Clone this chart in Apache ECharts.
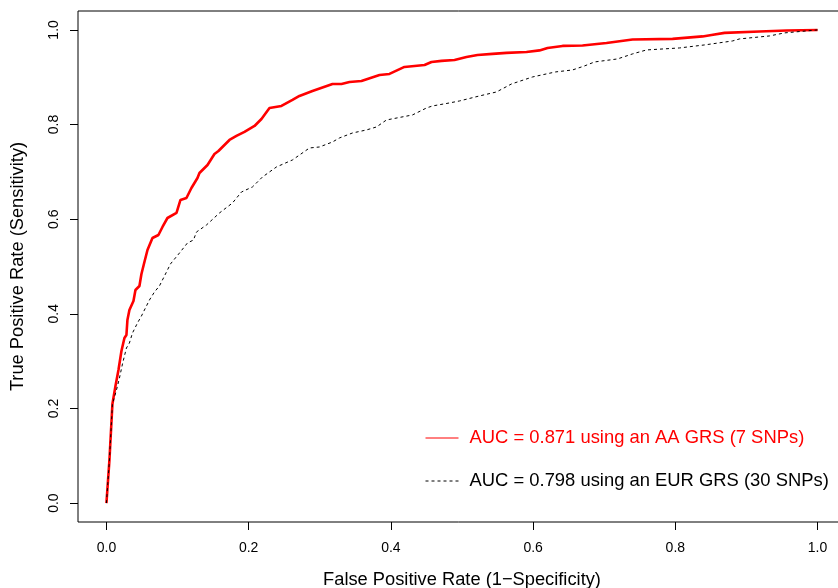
<!DOCTYPE html>
<html>
<head>
<meta charset="utf-8">
<script src="https://cdn.jsdelivr.net/npm/echarts@6/dist/echarts.min.js"></script>
<style>
html,body{margin:0;padding:0;background:#fff;}
#chart{width:838px;height:588px;}
</style>
</head>
<body>
<div id="chart"></div>
<script>
// ROC curve for AA GRS (7 SNPs): false positive rate / true positive rate
const aaFpr = [0,0.0042,0.0084,0.0127,0.0169,0.0211,0.0253,0.0281,0.0295,0.0323,0.0380,0.0394,0.0408,0.0464,0.0492,0.0534,0.0577,0.0647,0.0731,0.0788,0.0858,0.0985,0.1041,0.1125,0.1195,0.1280,0.1308,0.1421,0.1519,0.1575,0.1730,0.1828,0.1941,0.2082,0.2180,0.2293,0.2461,0.2616,0.2714,0.2897,0.3179,0.3305,0.3418,0.3586,0.3840,0.3980,0.4191,0.4473,0.4571,0.4712,0.4895,0.5063,0.5218,0.5429,0.5626,0.5907,0.6090,0.6203,0.6414,0.6695,0.7032,0.7398,0.7961,0.8383,0.8509,0.8692,0.9184,0.9564,1.0];
const aaTpr = [0,0.0909,0.2093,0.2474,0.2812,0.3214,0.3488,0.3552,0.3869,0.4080,0.4271,0.4292,0.4503,0.4588,0.4841,0.5095,0.5349,0.5603,0.5666,0.5835,0.6025,0.6131,0.6406,0.6448,0.6660,0.6871,0.6977,0.7146,0.7378,0.7442,0.7674,0.7759,0.7844,0.7970,0.8118,0.8351,0.8393,0.8520,0.8605,0.8710,0.8858,0.8858,0.8901,0.8922,0.9049,0.9070,0.9218,0.9260,0.9323,0.9345,0.9366,0.9429,0.9471,0.9493,0.9514,0.9535,0.9567,0.9619,0.9662,0.9672,0.9725,0.9799,0.9810,0.9863,0.9894,0.9937,0.9968,0.9989,1.0];
// ROC curve for EUR GRS (30 SNPs)
const eurFpr = [0,0.0042,0.0084,0.0141,0.0183,0.0225,0.0281,0.0323,0.0366,0.0436,0.0492,0.0534,0.0605,0.0675,0.0745,0.0830,0.0900,0.1027,0.1139,0.1224,0.1266,0.1406,0.1589,0.1772,0.1899,0.2053,0.2194,0.2391,0.2616,0.2855,0.2996,0.3179,0.3277,0.3460,0.3657,0.3797,0.3938,0.4304,0.4501,0.4585,0.4824,0.4965,0.5246,0.5485,0.5696,0.5992,0.6315,0.6554,0.6723,0.6864,0.7187,0.7398,0.7595,0.8059,0.8411,0.8805,0.8903,0.9325,0.9536,1.0];
const eurTpr = [0,0.0909,0.2093,0.2389,0.2643,0.2939,0.3277,0.3383,0.3594,0.3805,0.3953,0.4080,0.4292,0.4461,0.4588,0.4841,0.5053,0.5285,0.5497,0.5560,0.5729,0.5877,0.6131,0.6342,0.6575,0.6681,0.6892,0.7104,0.7252,0.7505,0.7526,0.7632,0.7717,0.7822,0.7886,0.7949,0.8097,0.8203,0.8351,0.8393,0.8457,0.8499,0.8605,0.8689,0.8858,0.9006,0.9112,0.9154,0.9239,0.9323,0.9387,0.9493,0.9577,0.9619,0.9683,0.9767,0.9810,0.9873,0.9937,1.0];
const tickValues = [0, 0.2, 0.4, 0.6, 0.8, 1.0];
const seriesNames = ['AUC = 0.871 using an AA GRS (7 SNPs)', 'AUC = 0.798 using an EUR GRS (30 SNPs)'];
const xTitle = 'False Positive Rate (1\u2212Specificity)';
const yTitle = 'True Positive Rate (Sensitivity)';

const font = "'Liberation Sans', Arial, Helvetica, sans-serif";
const zip = (a, b) => a.map((v, i) => [v, b[i]]);

const chart = echarts.init(document.getElementById('chart'), null, {renderer: 'canvas'});
chart.setOption({
  animation: false,
  backgroundColor: '#fff',
  textStyle: {fontFamily: font},
  grid: {left: 78, top: 11, height: 511, width: 768, outerBoundsMode: 'none', containLabel: false,
         show: true, borderColor: '#000', borderWidth: 1, backgroundColor: 'transparent'},
  legend: {
    orient: 'vertical', left: 420, top: 424,
    itemWidth: 33, itemHeight: 14, itemGap: 25,
    textStyle: {fontSize: 18.4, fontFamily: font, padding: [0, 0, 0, 6]},
    lineStyle: {width: 1},
    itemStyle: {opacity: 0},
    data: [
      {name: seriesNames[0], textStyle: {color: '#ff0000'}},
      {name: seriesNames[1], textStyle: {color: '#000'}}
    ]
  },
  xAxis: {
    type: 'value', min: -0.04, max: 1.04,
    name: xTitle, nameLocation: 'middle', nameGap: 49, nameMoveOverlap: false,
    nameTextStyle: {fontSize: 18.3, color: '#000', fontFamily: font},
    axisLine: {show: false, onZero: false},
    splitLine: {show: false},
    axisTick: {show: true, customValues: tickValues, length: 8, lineStyle: {color: '#000'}},
    axisLabel: {customValues: tickValues, margin: 19, fontSize: 14, color: '#000', formatter: v => v.toFixed(1)}
  },
  yAxis: {
    type: 'value', min: -0.04, max: 1.04,
    name: yTitle, nameLocation: 'middle', nameGap: 51, nameMoveOverlap: false,
    nameTextStyle: {fontSize: 18.3, color: '#000', fontFamily: font},
    axisLine: {show: false, onZero: false},
    splitLine: {show: false},
    axisTick: {show: true, customValues: tickValues, length: 8, lineStyle: {color: '#000'}},
    axisLabel: {customValues: tickValues, margin: 17, rotate: 90, fontSize: 14, color: '#000', formatter: v => v.toFixed(1)}
  },
  series: [
    {
      name: seriesNames[0], type: 'line', data: zip(aaFpr, aaTpr),
      symbol: 'none', showSymbol: false,
      lineStyle: {color: '#ff0000', width: 2.6},
      itemStyle: {color: '#ff0000'}
    },
    {
      name: seriesNames[1], type: 'line', data: zip(eurFpr, eurTpr),
      symbol: 'none', showSymbol: false,
      lineStyle: {color: '#000', width: 1, type: [3, 3]},
      itemStyle: {color: '#000'}
    }
  ]
});
</script>
</body>
</html>
